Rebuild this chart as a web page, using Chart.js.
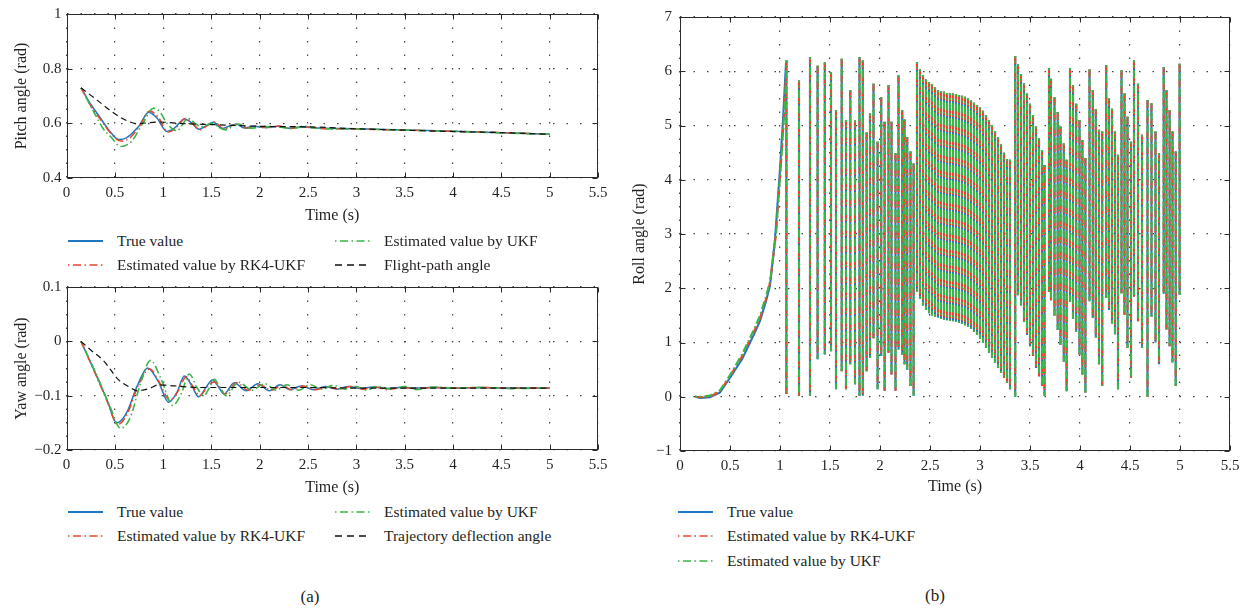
<!DOCTYPE html>
<html>
<head>
<meta charset="utf-8">
<script src="https://cdn.jsdelivr.net/npm/chart.js@4.4.1/dist/chart.umd.min.js"></script>
<style>
  body { margin: 0; background: #fff; width: 1250px; height: 612px; position: relative; overflow: hidden;
         font-family: "Liberation Serif", "Times New Roman", serif; color: #231f20; }
  canvas { position: absolute; }
  .item { position: absolute; height: 20px; display: flex; align-items: center; font-size: 15.5px; white-space: nowrap; }
  .item svg { margin-right: 14px; }
  .cap { position: absolute; font-size: 17px; transform: translate(-50%, -50%); }
</style>
</head>
<body>
<canvas id="pitch" width="620" height="225" style="left:0;top:0"></canvas>
<canvas id="yaw" width="620" height="224" style="left:0;top:273px"></canvas>
<canvas id="roll" width="630" height="496" style="left:620px;top:0"></canvas>

<!-- legend (a) top -->
<div class="item" style="left:68px;top:231px"><svg width="35" height="4"><line x1="0" y1="2" x2="35" y2="2" stroke="#1f77c0" stroke-width="2"/></svg>True value</div>
<div class="item" style="left:68px;top:255px"><svg width="35" height="4"><line x1="0" y1="2" x2="35" y2="2" stroke="#e8452c" stroke-width="1.5" stroke-dasharray="1.5 3.5 8 3.5"/></svg>Estimated value by RK4-UKF</div>
<div class="item" style="left:335px;top:231px"><svg width="35" height="4"><line x1="0" y1="2" x2="35" y2="2" stroke="#3cb44a" stroke-width="1.5" stroke-dasharray="1.5 3.5 8 3.5"/></svg>Estimated value by UKF</div>
<div class="item" style="left:335px;top:255px"><svg width="35" height="4"><line x1="0" y1="2" x2="35" y2="2" stroke="#111" stroke-width="1.3" stroke-dasharray="7 5"/></svg>Flight-path angle</div>
<!-- legend (a) bottom -->
<div class="item" style="left:68px;top:502px"><svg width="35" height="4"><line x1="0" y1="2" x2="35" y2="2" stroke="#1f77c0" stroke-width="2"/></svg>True value</div>
<div class="item" style="left:68px;top:526px"><svg width="35" height="4"><line x1="0" y1="2" x2="35" y2="2" stroke="#e8452c" stroke-width="1.5" stroke-dasharray="1.5 3.5 8 3.5"/></svg>Estimated value by RK4-UKF</div>
<div class="item" style="left:335px;top:502px"><svg width="35" height="4"><line x1="0" y1="2" x2="35" y2="2" stroke="#3cb44a" stroke-width="1.5" stroke-dasharray="1.5 3.5 8 3.5"/></svg>Estimated value by UKF</div>
<div class="item" style="left:335px;top:526px"><svg width="35" height="4"><line x1="0" y1="2" x2="35" y2="2" stroke="#111" stroke-width="1.3" stroke-dasharray="7 5"/></svg>Trajectory deflection angle</div>
<!-- legend (b) -->
<div class="item" style="left:678px;top:502px"><svg width="35" height="4"><line x1="0" y1="2" x2="35" y2="2" stroke="#1f77c0" stroke-width="2"/></svg>True value</div>
<div class="item" style="left:678px;top:526px"><svg width="35" height="4"><line x1="0" y1="2" x2="35" y2="2" stroke="#e8452c" stroke-width="1.5" stroke-dasharray="1.5 3.5 8 3.5"/></svg>Estimated value by RK4-UKF</div>
<div class="item" style="left:678px;top:551px"><svg width="35" height="4"><line x1="0" y1="2" x2="35" y2="2" stroke="#3cb44a" stroke-width="1.5" stroke-dasharray="1.5 3.5 8 3.5"/></svg>Estimated value by UKF</div>

<div class="cap" style="left:310px;top:597px">(a)</div>
<div class="cap" style="left:935px;top:596px">(b)</div>

<script>
// ---- pitch angle (top left) ----
const pitchTrueT = [0.15,0.25,0.34,0.44,0.54,0.62,0.75,0.85,0.93,1.04,1.12,1.22,1.29,1.37,1.44,1.52,1.61,1.68,1.76,1.84,1.94,2.06,2.19,2.31,2.43,2.6,3,3.5,4,4.5,5];
const pitchTrue  = [0.73,0.67,0.625,0.575,0.541,0.547,0.59,0.641,0.622,0.57,0.583,0.616,0.603,0.578,0.59,0.604,0.581,0.589,0.597,0.583,0.589,0.585,0.589,0.582,0.587,0.583,0.58,0.576,0.571,0.566,0.56];
const pitchRk4T  = [0.15,0.25,0.35,0.45,0.56,0.65,0.76,0.86,0.95,1.05,1.13,1.23,1.3,1.38,1.45,1.53,1.63,1.7,1.78,1.87,1.96,2.08,2.2,2.32,2.44,2.6,3,3.5,4,4.5,5];
const pitchRk4   = [0.73,0.665,0.615,0.567,0.535,0.545,0.592,0.645,0.622,0.568,0.582,0.618,0.602,0.576,0.59,0.605,0.579,0.59,0.598,0.582,0.59,0.584,0.59,0.581,0.588,0.582,0.579,0.575,0.571,0.566,0.56];
const pitchUkfT  = [0.15,0.3,0.38,0.46,0.56,0.67,0.79,0.9,0.96,1.04,1.14,1.26,1.33,1.39,1.45,1.51,1.58,1.65,1.72,1.78,1.9,2.05,2.19,2.33,2.47,2.6,3,3.5,4,4.5,5];
const pitchUkf   = [0.73,0.63,0.58,0.55,0.515,0.533,0.6,0.655,0.645,0.6,0.573,0.618,0.6,0.588,0.594,0.6,0.585,0.576,0.59,0.597,0.582,0.588,0.587,0.581,0.589,0.581,0.579,0.575,0.571,0.565,0.56];
const flightT    = [0.15,0.32,0.5,0.63,0.73,0.95,1.2,1.53,2.02,2.52,3,3.5,4,4.5,5];
const flight     = [0.73,0.684,0.635,0.609,0.599,0.605,0.599,0.595,0.589,0.587,0.58,0.575,0.57,0.566,0.56];

// ---- yaw angle (bottom left) ----
const yawTrueT = [0.15,0.3,0.42,0.52,0.62,0.73,0.84,0.95,1.056,1.14,1.22,1.3,1.365,1.45,1.51,1.57,1.63,1.735,1.86,1.98,2.1,2.21,2.31,2.43,2.56,2.68,2.8,2.92,3.05,3.17,3.3,3.45,3.6,3.8,4,4.3,4.6,5];
const yawTrue  = [0,-0.059,-0.108,-0.15,-0.132,-0.083,-0.049,-0.074,-0.112,-0.095,-0.064,-0.083,-0.102,-0.083,-0.071,-0.083,-0.097,-0.076,-0.091,-0.078,-0.091,-0.08,-0.089,-0.082,-0.089,-0.083,-0.088,-0.083,-0.087,-0.084,-0.087,-0.085,-0.086,-0.085,-0.086,-0.085,-0.086,-0.086];
const yawRk4T  = [0.15,0.3,0.42,0.53,0.63,0.74,0.86,0.96,1.07,1.15,1.24,1.31,1.38,1.46,1.53,1.59,1.64,1.76,1.88,2.0,2.12,2.23,2.33,2.45,2.58,2.7,2.82,2.94,3.07,3.2,3.32,3.47,3.6,3.8,4,4.3,4.6,5];
const yawRk4   = [0,-0.06,-0.11,-0.153,-0.133,-0.082,-0.051,-0.075,-0.108,-0.093,-0.065,-0.084,-0.1,-0.083,-0.075,-0.086,-0.097,-0.076,-0.09,-0.08,-0.09,-0.081,-0.089,-0.082,-0.089,-0.084,-0.088,-0.083,-0.088,-0.084,-0.089,-0.085,-0.087,-0.085,-0.086,-0.085,-0.086,-0.086];
const yawUkfT  = [0.15,0.32,0.45,0.56,0.66,0.77,0.87,0.98,1.1,1.19,1.27,1.35,1.42,1.48,1.53,1.59,1.65,1.78,1.92,2.05,2.17,2.28,2.4,2.52,2.64,2.76,2.88,3.0,3.1,3.22,3.35,3.5,3.62,3.8,4,4.3,4.6,5];
const yawUkf   = [0,-0.065,-0.12,-0.16,-0.14,-0.075,-0.035,-0.07,-0.118,-0.095,-0.06,-0.085,-0.1,-0.085,-0.07,-0.085,-0.1,-0.075,-0.09,-0.078,-0.09,-0.08,-0.09,-0.08,-0.088,-0.081,-0.088,-0.083,-0.09,-0.083,-0.088,-0.083,-0.089,-0.084,-0.086,-0.085,-0.087,-0.086];
const deflT    = [0.15,0.25,0.38,0.54,0.67,0.73,0.87,0.95,1.12,1.36,1.78,2.5,3,4,5];
const defl     = [0,-0.016,-0.035,-0.071,-0.086,-0.091,-0.086,-0.08,-0.082,-0.085,-0.085,-0.085,-0.086,-0.086,-0.086];

// ---- roll angle (right): smooth start, then wrapped 0..2pi strokes ----
const rollTrueT = [0.15,0.2,0.3,0.4,0.5,0.62,0.74,0.8,0.86,0.9,0.95,1.0,1.03,1.06];
const rollTrue  = [0,-0.02,-0.01,0.08,0.35,0.69,1.15,1.4,1.76,2.05,2.9,4.2,5.1,6.15];
const rollRk4T  = [0.15,0.2,0.3,0.4,0.5,0.62,0.74,0.8,0.86,0.9,0.96,1.01,1.04,1.068];
const rollRk4   = [0,-0.01,0,0.1,0.38,0.74,1.2,1.45,1.8,2.1,3.0,4.3,5.2,6.2];
const rollUkfT  = [0.15,0.2,0.3,0.4,0.5,0.62,0.74,0.8,0.86,0.9,0.96,1.01,1.045,1.072];
const rollUkf   = [0,0,0.02,0.12,0.4,0.78,1.24,1.5,1.85,2.12,3.0,4.3,5.3,6.2];

const rollSpikeT = [1.064,1.19,1.30,1.376,1.448,1.51,1.56,1.617,1.66,1.703,1.75,1.795,1.828,1.866,1.90,1.935,1.976,2.012,2.046,2.085,2.115,2.155,2.185,2.222,2.245,2.272,2.305,2.336,
  2.37,2.40,2.43,2.46,2.49,2.52,2.55,2.58,2.61,2.64,2.67,2.70,2.73,2.76,2.79,2.82,2.85,2.88,2.91,2.94,2.97,3.00,3.03,3.06,3.09,3.12,3.15,3.18,3.21,3.24,3.27,3.30,
  3.352,3.38,3.41,3.44,3.47,3.50,3.53,3.56,3.59,3.62,3.645,
  3.69,3.71,3.745,3.777,3.805,3.838,3.866,
  3.90,3.93,3.962,3.995,4.024,4.054,
  4.095,4.128,4.158,4.19,4.222,
  4.262,4.29,4.32,4.35,4.38,
  4.415,4.445,4.475,4.51,
  4.54,4.58,4.62,4.675,4.715,4.755,4.79,
  4.837,4.865,4.896,4.925,4.957,4.996];
const rollSpikeHigh = [6.2,5.83,6.26,6.1,6.16,5.98,5.28,6.23,5.1,5.65,5.09,6.26,6.2,4.87,5.22,5.77,4.7,5.52,5.07,5.74,5.07,4.49,5.92,5.28,5.11,4.79,4.52,4.3,
  6.17,6.03,5.93,5.85,5.8,5.76,5.7,5.65,5.63,5.62,5.6,5.6,5.59,5.58,5.56,5.55,5.53,5.5,5.46,5.42,5.38,5.33,5.27,5.19,5.1,5.01,4.9,4.78,4.65,4.5,4.38,4.37,
  6.28,6.13,5.95,5.78,5.59,5.4,5.19,4.98,4.76,4.55,4.27,
  6.06,5.86,5.52,5.25,4.98,4.67,4.37,
  6.06,5.74,5.4,5.1,4.73,4.4,
  6.03,5.65,5.3,4.92,4.89,
  6.11,5.5,5.31,4.89,4.46,
  6.02,5.59,5.16,4.7,
  6.2,5.77,4.83,5.47,5.41,4.89,4.49,
  6.08,5.65,5.28,4.89,4.52,6.14];
const rollSpikeLow = [0.05,0.02,0.02,0.69,0.78,0.84,0.14,0.47,0.14,0.6,0.23,0.02,0.02,0.47,0.72,1.08,0.14,0.75,0.11,0.81,0.41,0.11,0.87,0.78,0.6,0.5,0.2,0.02,
  1.94,1.8,1.68,1.6,1.54,1.5,1.48,1.46,1.44,1.42,1.41,1.4,1.39,1.38,1.36,1.34,1.32,1.29,1.25,1.2,1.14,1.07,0.99,0.9,0.81,0.72,0.62,0.53,0.44,0.35,0.26,0.14,
  0.0,1.87,1.68,1.38,1.14,0.93,0.75,0.53,0.38,0.2,0.02,
  1.93,1.78,1.5,1.23,0.96,0.65,0.1,
  1.75,1.44,1.2,0.78,0.41,0.08,
  1.76,1.45,1.09,0.6,0.2,
  1.82,1.6,1.35,1.15,0.14,
  1.91,1.51,0.9,0.35,
  1.85,1.39,0.9,0.0,1.48,1.0,0.6,
  1.9,1.24,0.93,0.63,0.2,1.88];

const FONT = '"Liberation Serif", "Times New Roman", serif';
const TXT = '#231f20';
const BLUE = '#1f77c0', RED = '#e8452c', GREEN = '#3cb44a', BLACK = '#111111';

const pts = (xs, ys) => xs.map((x, i) => ({ x: x, y: ys[i] }));

// ramp first, then one vertical stroke per wrap, split with nulls
function rollPts(rampT, rampV) {
  const out = pts(rampT, rampV);
  rollSpikeT.forEach((t, i) => {
    out.push({ x: t, y: null }, { x: t, y: rollSpikeHigh[i] }, { x: t, y: rollSpikeLow[i] });
  });
  return out;
}

const fmt = v => String(+v.toFixed(2)).replace('-', '\u2212');

const framePlugin = {
  id: 'frame',
  afterDraw(chart) {
    const { ctx, chartArea: a, scales: { x, y } } = chart;
    const L = Math.round(a.left) + 0.5, R = Math.round(a.right) - 0.5;
    const T = Math.round(a.top) + 0.5, B = Math.round(a.bottom) - 0.5;
    ctx.save();
    ctx.strokeStyle = '#2b2b2b';
    ctx.lineWidth = 1;
    ctx.strokeRect(L, T, R - L, B - T);
    ctx.beginPath();
    x.ticks.forEach(t => {
      const p = Math.round(x.getPixelForValue(t.value)) + 0.5;
      ctx.moveTo(p, B); ctx.lineTo(p, B - 5);
      ctx.moveTo(p, T); ctx.lineTo(p, T + 5);
    });
    y.ticks.forEach(t => {
      const p = Math.round(y.getPixelForValue(t.value)) + 0.5;
      ctx.moveTo(L, p); ctx.lineTo(L + 5, p);
      ctx.moveTo(R, p); ctx.lineTo(R - 5, p);
    });
    ctx.stroke();
    ctx.restore();
  }
};

function xAxis(h) {
  return {
    type: 'linear', min: 0, max: 5.5,
    ticks: { stepSize: 0.5, autoSkip: false, maxRotation: 0, padding: 6, color: TXT, font: { family: FONT, size: 15 }, callback: fmt },
    grid: { color: '#444', lineWidth: 1.2, drawTicks: false },
    border: { display: false, dash: [1.5, 12] },
    title: { display: true, text: 'Time (s)', color: TXT, font: { family: FONT, size: 16 }, padding: 0 },
    afterFit(s) { s.height = h; }
  };
}

function yAxis(min, max, step, label, w, pad) {
  return {
    type: 'linear', min: min, max: max,
    ticks: { stepSize: step, padding: pad, color: TXT, font: { family: FONT, size: 15 }, callback: fmt },
    grid: { color: '#444', lineWidth: 1.2, drawTicks: false },
    border: { display: false, dash: [1.5, 12] },
    title: { display: true, text: label, color: TXT, font: { family: FONT, size: 16 }, padding: 0 },
    afterFit(s) { s.width = w; }
  };
}

const styleTrue = { borderColor: BLUE, borderWidth: 1.5, order: 4 };
const styleRk4  = { borderColor: RED, borderWidth: 1.5, borderDash: [8, 3, 1.5, 3], order: 3 };
const styleUkf  = { borderColor: GREEN, borderWidth: 1.6, borderDash: [8, 3, 1.5, 3], borderDashOffset: 6, order: 2 };
const styleRef  = { borderColor: BLACK, borderWidth: 1.2, borderDash: [6, 4], order: 1 };

function ds(data, style, smooth, width) {
  return Object.assign({
    data: data, pointRadius: 0, fill: false, spanGaps: false,
    cubicInterpolationMode: smooth ? 'monotone' : 'default', tension: 0
  }, style, width ? { borderWidth: width } : {});
}

function baseOptions(padding, xs, ys) {
  return {
    responsive: false, animation: false, events: [],
    layout: { padding: padding },
    plugins: { legend: { display: false }, tooltip: { enabled: false } },
    scales: { x: xs, y: ys }
  };
}

new Chart(document.getElementById('pitch'), {
  type: 'line',
  data: { datasets: [
    ds(pts(pitchTrueT, pitchTrue), styleTrue, true),
    ds(pts(pitchRk4T, pitchRk4), styleRk4, true),
    ds(pts(pitchUkfT, pitchUkf), styleUkf, true),
    ds(pts(flightT, flight), styleRef, true)
  ] },
  options: baseOptions({ left: 12.5, right: 22, top: 13, bottom: 0 }, xAxis(47), yAxis(0.4, 1, 0.2, 'Pitch angle (rad)', 54, 5)),
  plugins: [framePlugin]
});

new Chart(document.getElementById('yaw'), {
  type: 'line',
  data: { datasets: [
    ds(pts(yawTrueT, yawTrue), styleTrue, true),
    ds(pts(yawRk4T, yawRk4), styleRk4, true),
    ds(pts(yawUkfT, yawUkf), styleUkf, true),
    ds(pts(deflT, defl), styleRef, true)
  ] },
  options: baseOptions({ left: 12.5, right: 22, top: 13, bottom: 0 }, xAxis(47), yAxis(-0.2, 0.1, 0.1, 'Yaw angle (rad)', 54, 5)),
  plugins: [framePlugin]
});

new Chart(document.getElementById('roll'), {
  type: 'line',
  data: { datasets: [
    ds(rollPts(rollTrueT, rollTrue), styleTrue, false, 2.1),
    ds(rollPts(rollRk4T, rollRk4), styleRk4, false, 2.1),
    ds(rollPts(rollUkfT, rollUkf), styleUkf, false, 2.1)
  ] },
  options: baseOptions({ left: 10.5, right: 20, top: 13, bottom: 0 }, xAxis(45), yAxis(-1, 7, 1, 'Roll angle (rad)', 49.5, 8)),
  plugins: [framePlugin]
});
</script>
</body>
</html>
